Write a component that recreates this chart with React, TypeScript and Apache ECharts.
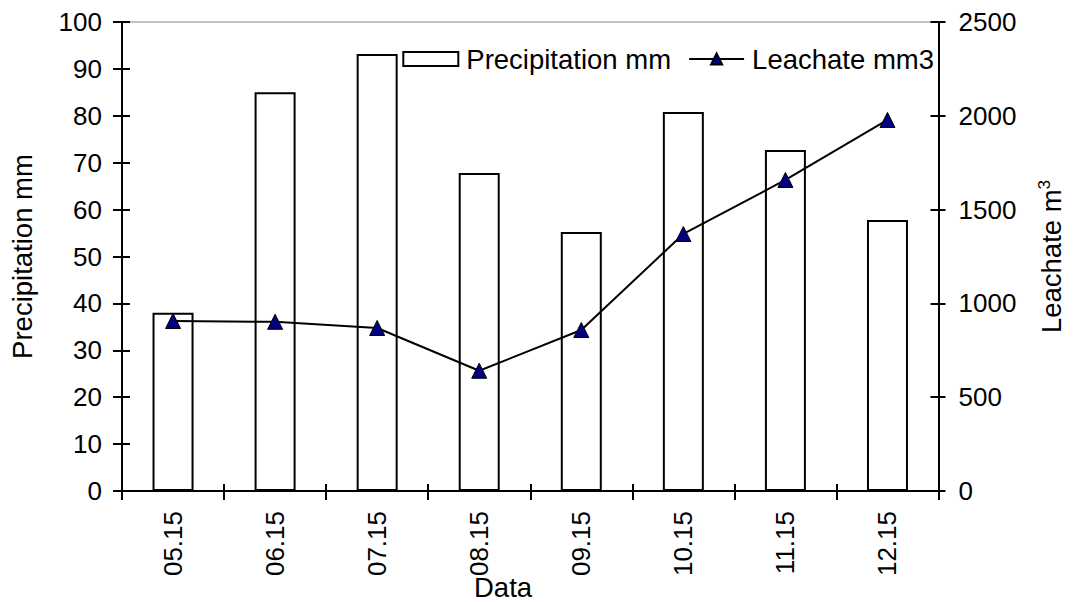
import React, { useEffect, useRef } from "react";
import * as echarts from "echarts";

const categories = ["05.15", "06.15", "07.15", "08.15", "09.15", "10.15", "11.15", "12.15"];
const precipitation = [38, 85, 93.2, 67.8, 55.2, 80.8, 72.7, 57.8];
const leachate = [906, 902, 869, 641, 858, 1370, 1658, 1978];

const FONT = "'Liberation Sans', Arial, sans-serif";
const FS = 26;
const FT = 27.5;

export default function App() {
  const ref = useRef<HTMLDivElement>(null);
  useEffect(() => {
    if (!ref.current) return;
    const chart = echarts.init(ref.current, null, { renderer: "svg" });
    const txt = { fontFamily: FONT, fontSize: FS, color: "#000" };
    const ttl = { fontFamily: FONT, fontSize: FT, color: "#000" };
    const tickStyle = { color: "#000", width: 2 };
    const hiddenLine = { show: true, onZero: false, lineStyle: { color: "#000", width: 2, opacity: 0 } };
    chart.setOption({
      animation: false,
      backgroundColor: "#fff",
      textStyle: { fontFamily: FONT },
      grid: {
        left: 119,
        right: 130,
        top: 22,
        bottom: 111,
        show: true,
        borderColor: "#888",
        borderWidth: 1,
        backgroundColor: "transparent",
      },
      legend: {
        right: 134,
        top: 40,
        itemWidth: 55,
        itemHeight: 14,
        itemGap: 17,
        textStyle: { ...ttl, padding: [0, 0, 0, 3] },
        data: [
          { name: "Precipitation mm", icon: "rect" },
          { name: "Leachate mm3" },
        ],
      },
      xAxis: [
        {
          type: "category",
          data: categories,
          position: "bottom",
          boundaryGap: true,
          axisLine: { onZero: false, lineStyle: { color: "#000", width: 2 } },
          axisTick: { show: true, inside: true, length: 7, lineStyle: tickStyle },
          axisLabel: { ...txt, rotate: 90, margin: 20 },
          splitLine: { show: false },
        },
        {
          type: "category",
          data: categories,
          position: "bottom",
          boundaryGap: true,
          axisLine: hiddenLine,
          axisTick: { show: true, length: 9, lineStyle: tickStyle },
          axisLabel: { show: false },
          splitLine: { show: false },
        },
      ],
      yAxis: [
        {
          type: "value",
          position: "left",
          min: 0,
          max: 100,
          interval: 10,
          name: "Precipitation mm",
          nameLocation: "middle",
          nameRotate: 90,
          nameGap: 86,
          nameTextStyle: { ...ttl },
          axisLine: { show: true, onZero: false, lineStyle: { color: "#000", width: 2 } },
          axisTick: { show: true, inside: true, length: 8, lineStyle: tickStyle },
          axisLabel: { ...txt, margin: 20, formatter: (v: number) => String(v) },
          splitLine: { show: false },
        },
        {
          type: "value",
          position: "right",
          min: 0,
          max: 2500,
          interval: 500,
          name: "Leachate m{sup|3}",
          nameLocation: "middle",
          nameRotate: 90,
          nameGap: 97,
          nameTextStyle: {
            ...ttl,
            rich: {
              sup: { fontFamily: FONT, fontSize: 17, color: "#000", verticalAlign: "top", padding: [0, 0, 14, 0] },
            },
          },
          axisLine: { show: true, onZero: false, lineStyle: { color: "#000", width: 2 } },
          axisTick: { show: true, inside: true, length: 8, lineStyle: tickStyle },
          axisLabel: { ...txt, margin: 20, formatter: (v: number) => String(v) },
          splitLine: { show: false },
        },
        {
          type: "value",
          position: "left",
          min: 0,
          max: 100,
          interval: 10,
          axisLine: hiddenLine,
          axisTick: { show: true, length: 9, lineStyle: tickStyle },
          axisLabel: { show: false },
          splitLine: { show: false },
        },
        {
          type: "value",
          position: "right",
          min: 0,
          max: 2500,
          interval: 500,
          axisLine: hiddenLine,
          axisTick: { show: true, length: 7, lineStyle: tickStyle },
          axisLabel: { show: false },
          splitLine: { show: false },
        },
      ],
      graphic: [
        {
          type: "text",
          left: 474,
          top: 573,
          style: { text: "Data", font: `${FT}px ${FONT}`, fill: "#000" },
        },
      ],
      series: [
        {
          name: "Precipitation mm",
          type: "bar",
          xAxisIndex: 0,
          yAxisIndex: 0,
          data: precipitation,
          barWidth: 41,
          itemStyle: { color: "#fff", borderColor: "#000", borderWidth: 2 },
        },
        {
          name: "Leachate mm3",
          type: "line",
          xAxisIndex: 0,
          yAxisIndex: 1,
          data: leachate,
          symbol: "triangle",
          symbolSize: 15,
          lineStyle: { color: "#000", width: 2 },
          itemStyle: { color: "#000080", borderColor: "#000", borderWidth: 1 },
        },
        {
          name: "_ticksLeft",
          type: "line",
          xAxisIndex: 1,
          yAxisIndex: 2,
          data: [],
          silent: true,
          showSymbol: false,
        },
        {
          name: "_ticksRight",
          type: "line",
          xAxisIndex: 1,
          yAxisIndex: 3,
          data: [],
          silent: true,
          showSymbol: false,
        },
      ],
    });
    return () => chart.dispose();
  }, []);
  return <div ref={ref} style={{ width: 1073, height: 602, position: "absolute", left: 0, top: 0 }} />;
}
